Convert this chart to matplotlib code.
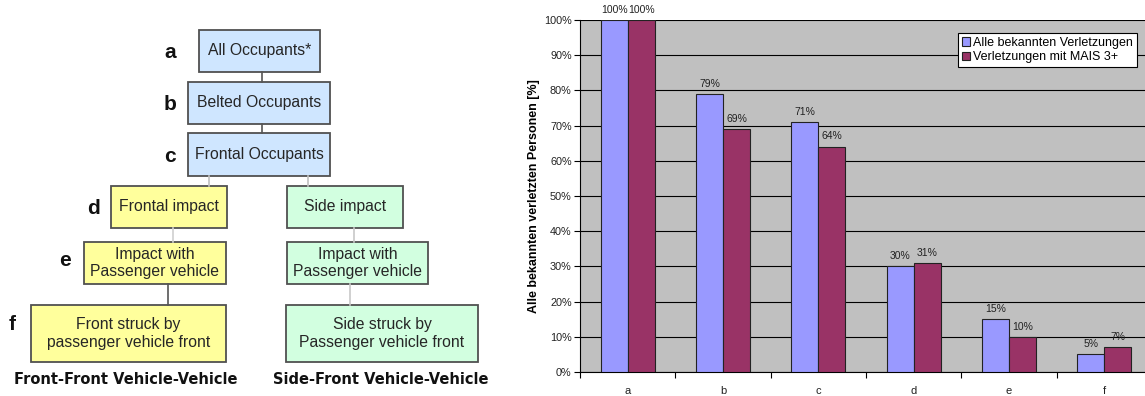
import matplotlib.pyplot as plt
from matplotlib.patches import Rectangle
import numpy as np

plt.rcParams['font.family'] = ['Liberation Sans', 'DejaVu Sans']

# bar chart data
categories = ['a', 'b', 'c', 'd', 'e', 'f']
alle_verletzungen = [100, 79, 71, 30, 15, 5]
mais3_verletzungen = [100, 69, 64, 31, 10, 7]
series_names = ['Alle bekannten Verletzungen', 'Verletzungen mit MAIS 3+']
ytick_labels = ['0%', '10%', '20%', '30%', '40%', '50%', '60%', '70%', '80%', '90%', '100%']

# flowchart text
step_letters = ['a', 'b', 'c', 'd', 'e', 'f']
main_steps = ['All Occupants*', 'Belted Occupants', 'Frontal Occupants']
front_steps = ['Frontal impact', 'Impact with\nPassenger vehicle',
               'Front struck by\npassenger vehicle front']
side_steps = ['Side impact', 'Impact with\nPassenger vehicle',
              'Side struck by\nPassenger vehicle front']
captions = ['Front-Front Vehicle-Vehicle', 'Side-Front Vehicle-Vehicle']

W, H = 1145, 396
fig = plt.figure(figsize=(W / 100, H / 100), dpi=100)

# ---- flowchart (pixel coordinates) ----
fc = fig.add_axes([0, 0, 1, 1])
fc.set_xlim(0, W)
fc.set_ylim(H, 0)
fc.axis('off')

BLUE, YELLOW, GREEN = '#cfe6ff', '#ffff9c', '#d2ffe0'


def box(x0, y0, x1, y1, color, text):
    fc.add_patch(Rectangle((x0, y0), x1 - x0, y1 - y0, facecolor=color,
                           edgecolor='#505050', linewidth=1.3))
    fc.text((x0 + x1) / 2, (y0 + y1) / 2, text, ha='center', va='center',
            fontsize=11.3, color='#262626', linespacing=1.2)


def link(x, y0, y1, color):
    fc.plot([x, x], [y0, y1], color=color, linewidth=1.2)


link(262, 72, 82, '#555555')
link(262, 124, 133, '#555555')
link(209, 176, 186, '#c0c0c0')
link(308, 176, 186, '#c0c0c0')
link(173, 228, 242, '#d0d0d0')
link(354, 228, 242, '#c8c8c8')
link(168, 284, 305, '#555555')
link(350, 284, 305, '#c8c8c8')

main_boxes = [(199, 30, 320, 72), (188, 82, 330, 124), (188, 133, 330, 176)]
for (x0, y0, x1, y1), t in zip(main_boxes, main_steps):
    box(x0, y0, x1, y1, BLUE, t)

front_boxes = [(111, 186, 227, 228), (84, 242, 226, 284), (31, 305, 226, 362)]
side_boxes = [(287, 186, 403, 228), (287, 242, 428, 284), (286, 305, 478, 362)]
for (x0, y0, x1, y1), t in zip(front_boxes, front_steps):
    box(x0, y0, x1, y1, YELLOW, t)
for (x0, y0, x1, y1), t in zip(side_boxes, side_steps):
    box(x0, y0, x1, y1, GREEN, t)

letter_pos = [(170, 53), (170, 105), (170, 157), (93, 208), (65, 260), (12, 325)]
for (x, y), s in zip(letter_pos, step_letters):
    fc.text(x, y, s, ha='center', va='center', fontsize=15, fontweight='bold',
            color='#111111')

fc.text(126, 380, captions[0], ha='center', va='center', fontsize=10.5,
        fontweight='bold', family='DejaVu Sans', color='#111111')
fc.text(381, 380, captions[1], ha='center', va='center', fontsize=10.5,
        fontweight='bold', family='DejaVu Sans', color='#111111')

# ---- bar chart ----
left, right, top, bottom = 580, 1152, 20, 372
ax = fig.add_axes([left / W, (H - bottom) / H, (right - left) / W, (bottom - top) / H])
ax.set_facecolor('#c0c0c0')

x = np.arange(len(categories))
w = 0.284
b1 = ax.bar(x - w / 2, alle_verletzungen, w, color='#9999ff', edgecolor='#222222',
            linewidth=0.8, label=series_names[0], zorder=3)
b2 = ax.bar(x + w / 2, mais3_verletzungen, w, color='#993366', edgecolor='#222222',
            linewidth=0.8, label=series_names[1], zorder=3)

for bars, vals in ((b1, alle_verletzungen), (b2, mais3_verletzungen)):
    for r, v in zip(bars, vals):
        ax.text(r.get_x() + r.get_width() / 2, v + 1.5, f'{v}%', ha='center',
                va='bottom', fontsize=7.5, color='#222222', clip_on=False)

ax.set_xlim(-0.5, len(categories) - 0.5)
ax.set_ylim(0, 100)
ax.set_yticks(np.arange(0, 101, 10))
ax.set_yticklabels(ytick_labels, fontsize=7.8, color='#222222')
ax.set_xticks(np.arange(-0.5, len(categories), 1))
ax.set_xticklabels([])
ax.set_xticks(x, minor=True)
ax.set_xticklabels(categories, minor=True, fontsize=8, color='#222222')
ax.tick_params(axis='x', which='major', direction='out', length=4, width=0.8)
ax.tick_params(axis='x', which='minor', length=0, pad=10)
ax.tick_params(axis='y', direction='out', length=4, width=0.8, pad=2)
ax.grid(axis='y', color='black', linewidth=0.8, zorder=1)
ax.set_axisbelow(True)
for s in ('top', 'right'):
    ax.spines[s].set_visible(False)
ax.spines['left'].set_linewidth(0.8)
ax.spines['bottom'].set_linewidth(0.8)

ax.set_ylabel('Alle bekannten verletzten Personen [%]', fontsize=9,
              fontweight='bold', labelpad=3)

leg = ax.legend(loc='upper right', bbox_to_anchor=(1137 / W, 1 - 33 / H),
                bbox_transform=fig.transFigure, fontsize=9, frameon=True,
                fancybox=False, edgecolor='black', framealpha=1,
                handlelength=0.7, handleheight=0.7, handletextpad=0.25,
                borderpad=0.3, labelspacing=0.2, borderaxespad=0)
leg.get_frame().set_linewidth(0.8)

fig.savefig('out.png', dpi=100)
